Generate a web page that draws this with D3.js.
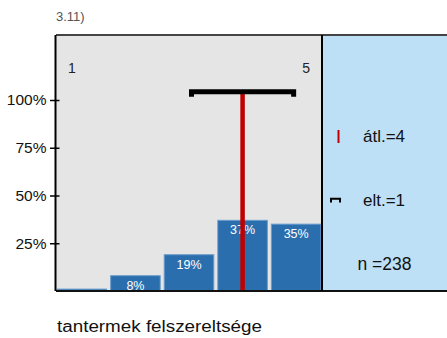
<!DOCTYPE html>
<html>
<head>
<meta charset="utf-8">
<script src="https://cdn.jsdelivr.net/npm/d3@7"></script>
<style>
  html, body { margin: 0; padding: 0; background: #ffffff; }
  svg { display: block; font-family: "Liberation Sans", Arial, sans-serif; }
</style>
</head>
<body>
<svg id="chart" width="447" height="338"></svg>
<script>
// Answer categories (1..5 scale) and share of respondents in each (%)
const categories = ["1", "2", "3", "4", "5"];
const shares = [1, 8, 19, 37, 35];
const yTicks = [25, 50, 75, 100];
const meanValue = 4;
const sdValue = 1;
const nCount = 238;
const chartNumber = "3.11)";
const axisTitle = "tantermek felszereltsége";
const legendMean = "átl.=";
const legendSd = "elt.=";
const legendN = "n =";

const svg = d3.select("#chart");

const plot = { left: 56, right: 322, top: 35, bottom: 291 };
const panelRight = 447;

const x = d3.scaleBand()
  .domain(categories)
  .range([plot.left, plot.right])
  .paddingInner(0.075)
  .paddingOuter(0.02);

const y = d3.scaleLinear().domain([0, 100]).range([plot.bottom, 100]);

// continuous position along the 1..5 answer scale
const scalePos = d3.scaleLinear()
  .domain([1, 5])
  .range([x("1") + x.bandwidth() / 2, x("5") + x.bandwidth() / 2]);

// backgrounds
svg.append("rect")
  .attr("x", plot.left).attr("y", plot.top)
  .attr("width", plot.right - plot.left).attr("height", plot.bottom - plot.top)
  .attr("fill", "#e5e5e5");
svg.append("rect")
  .attr("x", plot.right).attr("y", plot.top)
  .attr("width", panelRight - plot.right).attr("height", plot.bottom - plot.top)
  .attr("fill", "#bde0f7");

// bars
svg.append("g").selectAll("rect")
  .data(categories)
  .join("rect")
  .attr("x", d => x(d))
  .attr("y", (d, i) => y(shares[i]))
  .attr("width", x.bandwidth())
  .attr("height", (d, i) => plot.bottom - y(shares[i]))
  .attr("fill", "#2b6eae")
  .attr("stroke", "#6a9ccb")
  .attr("stroke-width", 1);

// value labels inside bars
svg.append("g").selectAll("text")
  .data(categories.filter((d, i) => shares[i] >= 5))
  .join("text")
  .attr("x", d => x(d) + x.bandwidth() / 2)
  .attr("y", d => y(shares[categories.indexOf(d)]) + 14)
  .attr("text-anchor", "middle")
  .attr("fill", "#ffffff")
  .attr("font-size", 12.5)
  .text(d => shares[categories.indexOf(d)] + "%");

// mean line
const sdY = 91.8;
svg.append("line")
  .attr("x1", scalePos(meanValue)).attr("x2", scalePos(meanValue))
  .attr("y1", sdY).attr("y2", plot.bottom)
  .attr("stroke", "#c00000")
  .attr("stroke-width", 4.5);

// standard deviation bracket
const sdLeft = scalePos(meanValue - sdValue);
const sdRight = scalePos(meanValue + sdValue);
svg.append("path")
  .attr("d", `M${sdLeft + 2.5},${sdY + 5} V${sdY} H${sdRight - 2.5} V${sdY + 5}`)
  .attr("fill", "none")
  .attr("stroke", "#000000")
  .attr("stroke-width", 5);

// scale end labels
svg.append("text")
  .attr("x", scalePos(1) - 10).attr("y", 73)
  .attr("text-anchor", "middle").attr("font-size", 14).attr("fill", "#222")
  .text(categories[0]);
svg.append("text")
  .attr("x", scalePos(5) + 10).attr("y", 73)
  .attr("text-anchor", "middle").attr("font-size", 14).attr("fill", "#222")
  .text(categories[categories.length - 1]);

// frame
svg.append("line")
  .attr("x1", plot.left).attr("x2", panelRight)
  .attr("y1", plot.top).attr("y2", plot.top)
  .attr("stroke", "#444").attr("stroke-width", 2);
svg.append("line")
  .attr("x1", plot.left).attr("x2", panelRight)
  .attr("y1", plot.bottom).attr("y2", plot.bottom)
  .attr("stroke", "#111").attr("stroke-width", 2);
svg.append("line")
  .attr("x1", plot.right).attr("x2", plot.right)
  .attr("y1", plot.top).attr("y2", plot.bottom)
  .attr("stroke", "#000").attr("stroke-width", 2);

// y axis
const yAxis = d3.axisLeft(y)
  .tickValues(yTicks)
  .tickFormat(d => d + "%")
  .tickSize(0)
  .tickPadding(9);
const gy = svg.append("g")
  .attr("transform", `translate(${plot.left - 0.5},0)`)
  .call(yAxis);
gy.select(".domain")
  .attr("d", `M0,${plot.top}V${plot.bottom}`)
  .attr("stroke", "#000").attr("stroke-width", 2);
gy.selectAll(".tick line")
  .attr("x1", -5.5).attr("x2", 4)
  .attr("stroke", "#000").attr("stroke-width", 1.5);
gy.selectAll(".tick text")
  .attr("font-size", 15.5)
  .attr("font-family", "Liberation Sans, Arial, sans-serif")
  .attr("fill", "#111");

// chart number
svg.append("text")
  .attr("x", 56).attr("y", 21)
  .attr("font-size", 13).attr("fill", "#555")
  .text(chartNumber);

// legend panel
svg.append("line")
  .attr("x1", 338.5).attr("x2", 338.5)
  .attr("y1", 130).attr("y2", 143)
  .attr("stroke", "#c00000").attr("stroke-width", 2);
svg.append("text")
  .attr("x", 363).attr("y", 141.7)
  .attr("font-size", 17).attr("fill", "#111")
  .text(legendMean + meanValue);

svg.append("path")
  .attr("d", "M331,202.5 V198.8 H340 V202.5")
  .attr("fill", "none").attr("stroke", "#000").attr("stroke-width", 2);
svg.append("text")
  .attr("x", 363).attr("y", 206)
  .attr("font-size", 17).attr("fill", "#111")
  .text(legendSd + sdValue);

svg.append("text")
  .attr("x", 357.5).attr("y", 270)
  .attr("font-size", 17.5).attr("fill", "#111")
  .text(legendN + nCount);

// axis title
svg.append("text")
  .attr("x", 57).attr("y", 332)
  .attr("font-size", 16).attr("fill", "#111")
  .attr("textLength", 205).attr("lengthAdjust", "spacingAndGlyphs")
  .text(axisTitle);
</script>
</body>
</html>
